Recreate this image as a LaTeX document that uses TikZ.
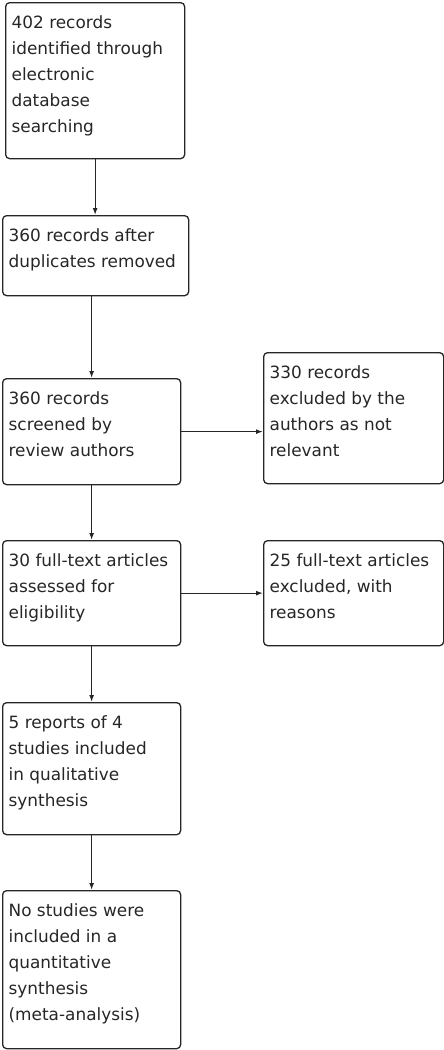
\documentclass[tikz,border=0pt]{standalone}
\usepackage{fontspec}
\setmainfont{DejaVu Sans}
\usetikzlibrary{arrows.meta}
\tikzset{
  flowbox/.style={draw=black!85, line width=1.3pt, rounded corners=4pt, anchor=north west,
    inner xsep=6pt, inner ysep=8pt, font=\fontsize{16.9}{26}\selectfont, text=black!85},
  flowarrow/.style={draw=black!85, line width=1.3pt, -{Latex[length=7pt,width=5pt]}}
}
\newcommand{\bxt}[3]{\parbox[t][#2pt][t]{#1pt}{\strut #3}}
\begin{document}
\begin{tikzpicture}[x=1pt,y=-1pt]
\useasboundingbox (0,0) rectangle (444,1050);
\node[flowbox] (b1) at (5,2) {\bxt{167}{140}{402 records\\identified through\\electronic\\database\\searching}};
\node[flowbox] (b2) at (2,215) {\bxt{174}{64}{360 records after\\duplicates removed}};
\node[flowbox] (b3) at (2,378) {\bxt{166}{90}{360 records\\screened by\\review authors}};
\node[flowbox] (b4) at (263,352) {\bxt{168}{115}{330 records\\excluded by the\\authors as not\\relevant}};
\node[flowbox] (b5) at (2,540) {\bxt{166}{89}{30 full-text articles\\assessed for\\eligibility}};
\node[flowbox] (b6) at (263,540) {\bxt{168}{89}{25 full-text articles\\excluded, with\\reasons}};
\node[flowbox] (b7) at (2,702) {\bxt{166}{116}{5 reports of 4\\studies included\\in qualitative\\synthesis}};
\node[flowbox] (b8) at (2,890) {\bxt{166}{142}{No studies were\\included in a\\quantitative\\synthesis\\(meta-analysis)}};
\draw[flowarrow] (b1.south) -- (b2.north -| b1.south);
\draw[flowarrow] (b2.south -| b3.north) -- (b3.north);
\draw[flowarrow] (b3.east) -- (b4.west |- b3.east);
\draw[flowarrow] (b3.south) -- (b5.north);
\draw[flowarrow] (b5.east) -- (b6.west |- b5.east);
\draw[flowarrow] (b5.south) -- (b7.north);
\draw[flowarrow] (b7.south) -- (b8.north);
\end{tikzpicture}
\end{document}
